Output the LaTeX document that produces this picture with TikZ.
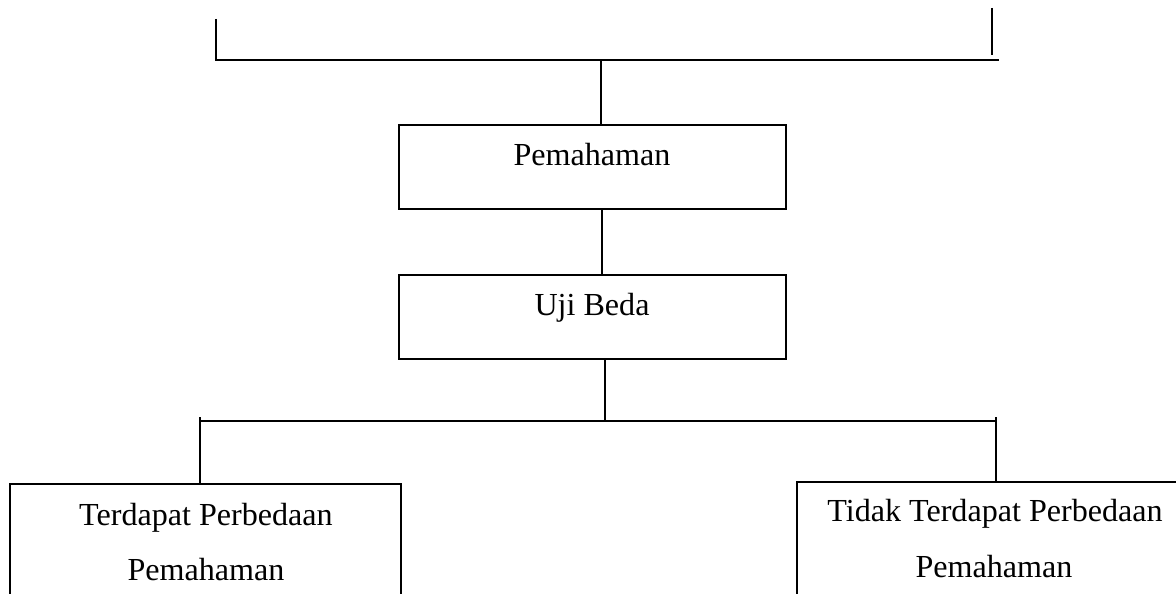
\documentclass[tikz,border=0pt]{standalone}
\usepackage{fontspec}
\setmainfont{Liberation Serif}
\begin{document}
\begin{tikzpicture}[x=1pt,y=-1pt,line width=1.5pt,
  box/.style={draw, rectangle, inner sep=0pt, outer sep=0pt, anchor=north west},
  lbl/.style={anchor=base, inner sep=0pt, font=\fontsize{32.1}{38}\selectfont}]
\useasboundingbox (0,0) rectangle (1176,594);
\clip (0,0) rectangle (1176,594);
% boxes
\node[box, minimum width=387pt, minimum height=84pt] (p) at (399,125) {};
\node[box, minimum width=387pt, minimum height=84pt] (u) at (399,275) {};
\node[box, minimum width=391pt, minimum height=160pt] (l) at (10,484) {};
\node[box, minimum width=420pt, minimum height=160pt] (r) at (797,482) {};
% labels
\node[lbl] (pt) at (592,165) {Pemahaman};
\node[lbl] (ut) at (592,315) {Uji Beda};
\node[lbl] (lt1) at (206,525) {Terdapat Perbedaan};
\node[lbl] (lt2) at (206,580) {Pemahaman};
\node[lbl] (rt1) at (995,521) {Tidak Terdapat Perbedaan};
\node[lbl] (rt2) at (994,577) {Pemahaman};
% top bracket
\coordinate (tl) at (216,19);
\coordinate (tlb) at (216,60);
\coordinate (tre) at (999,60);
\coordinate (trv1) at (992,8);
\coordinate (trv2) at (992,55);
\coordinate (tc) at (601,60);
\draw (tl) -- (tlb) -- (tre);
\draw (trv1) -- (trv2);
\draw (tc) -- (tc |- p.north);
% pemahaman to uji beda
\coordinate (pc) at (602,0);
\draw (pc |- p.south) -- (pc |- u.north);
% uji beda to bottom bar
\coordinate (bc) at (605,421);
\draw (bc |- u.south) -- (bc);
\coordinate (bl) at (200,421);
\coordinate (br) at (997,421);
\draw (bl) -- (br);
\coordinate (lv) at (200,417);
\coordinate (rv) at (996,417);
\draw (lv) -- (lv |- l.north);
\draw (rv) -- (rv |- r.north);
\end{tikzpicture}
\end{document}
